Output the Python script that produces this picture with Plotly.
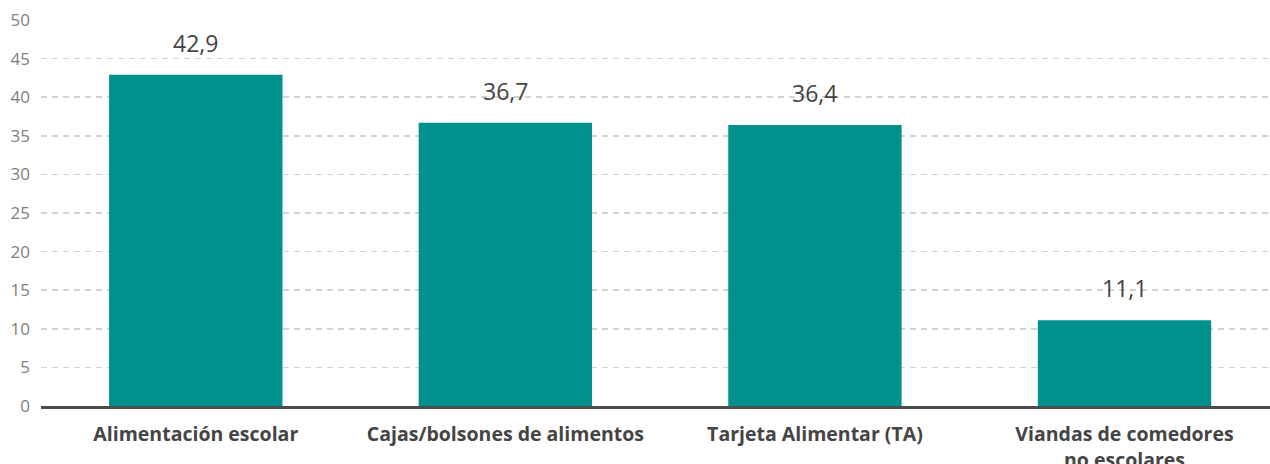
import plotly.graph_objects as go

categories = ["Alimentación escolar", "Cajas/bolsones de alimentos", "Tarjeta Alimentar (TA)", "Viandas de comedores<br>no escolares"]
values = [42.9, 36.7, 36.4, 11.1]
y_ticks = [0, 5, 10, 15, 20, 25, 30, 35, 40, 45, 50]

fig = go.Figure()
fig.add_trace(go.Bar(
    x=categories, y=values,
    marker=dict(color="#00918E", line=dict(width=0)),
    hoverinfo="skip",
))
for c, v in zip(categories, values):
    fig.add_annotation(
        x=c, y=v, text=f"{v:.1f}".replace(".", ","),
        showarrow=False, yanchor="bottom", yshift=14,
        font=dict(family="Open Sans", size=23, color="#444444"),
    )

fig.update_layout(
    width=1270, height=464,
    margin=dict(l=41, r=0, t=20, b=58),
    paper_bgcolor="white", plot_bgcolor="white",
    bargap=0.44, showlegend=False,
    separators=",.",
    font=dict(family="Open Sans"),
)
fig.update_xaxes(
    range=[-0.5, 3.47], automargin=False,
    showline=True, linecolor="#4d4d4d", linewidth=3,
    showgrid=False, ticks="", ticklabelstandoff=9,
    tickfont=dict(family="Open Sans", size=19.5, color="#444444", weight="bold"),
)
fig.update_yaxes(
    range=[0, 50], tickvals=y_ticks, automargin=False,
    showgrid=True, gridcolor="#d3d3d3", gridwidth=1.5, griddash="6px,5px",
    zeroline=False, showline=False, ticks="",
    ticklabelstandoff=10,
    tickfont=dict(family="Open Sans", size=17, color="#808080"),
)
fig.write_html(
    "out.html",
    config={"displayModeBar": False, "staticPlot": True},
    post_script="document.body.style.margin='0';document.body.style.overflow='hidden';",
)
